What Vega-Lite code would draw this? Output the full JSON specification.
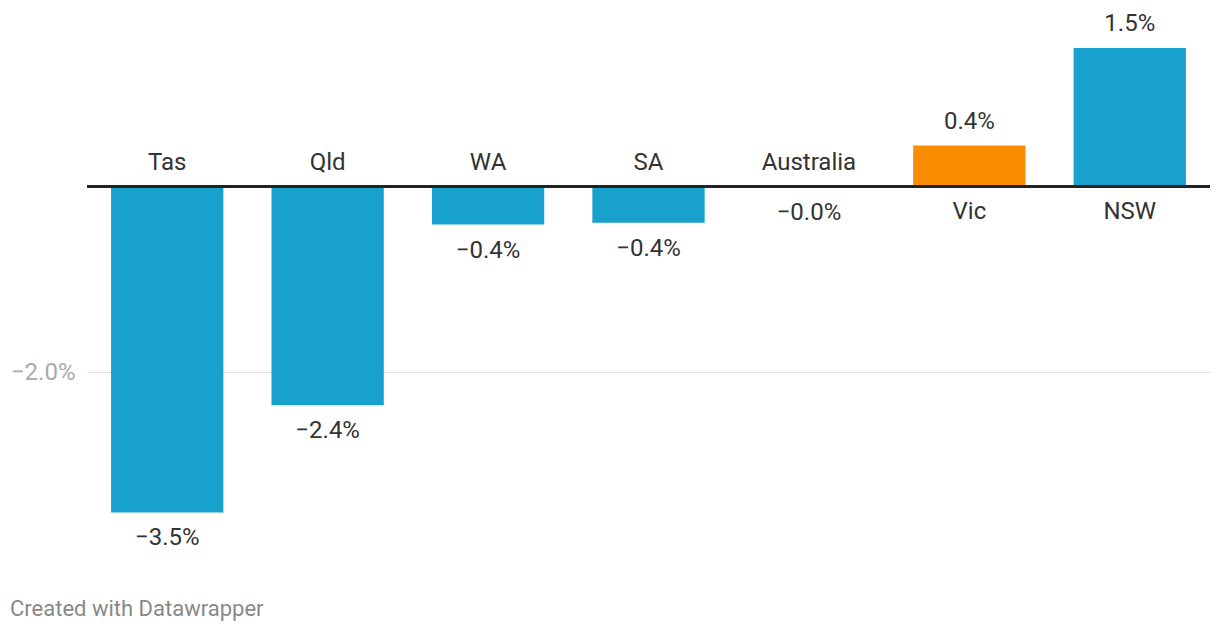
{
  "$schema": "https://vega.github.io/schema/vega-lite/v6.json",
  "autosize": "none",
  "width": 1123,
  "height": 548,
  "padding": {"left": 87, "top": 10, "right": 10, "bottom": 74},
  "background": "#ffffff",
  "config": {
    "view": {"stroke": null},
    "font": "Roboto",
    "text": {"font": "Roboto"}
  },
  "title": {
    "text": "Created with Datawrapper",
    "orient": "bottom",
    "anchor": "start",
    "frame": "group",
    "dx": -77,
    "offset": 41,
    "font": "Roboto",
    "fontSize": 22,
    "fontWeight": "normal",
    "color": "#888888"
  },
  "data": {
    "values": [
      {"region": "Tas", "value": -3.51},
      {"region": "Qld", "value": -2.355},
      {"region": "WA", "value": -0.41},
      {"region": "SA", "value": -0.39},
      {"region": "Australia", "value": -0.004},
      {"region": "Vic", "value": 0.44},
      {"region": "NSW", "value": 1.49}
    ]
  },
  "transform": [
    {"calculate": "(datum.value < 0 ? '\u2212' : '') + format(abs(datum.value), '.1f') + '%'", "as": "label"}
  ],
  "encoding": {
    "x": {
      "field": "region",
      "type": "nominal",
      "sort": null,
      "axis": null,
      "scale": {"paddingInner": 0.3, "paddingOuter": 0.15}
    }
  },
  "layer": [
    {
      "mark": {"type": "bar"},
      "encoding": {
        "y": {
          "field": "value",
          "type": "quantitative",
          "scale": {"domain": [-4, 1.9], "nice": false},
          "axis": {
            "values": [-2],
            "grid": true,
            "gridColor": "#e0e0e0",
            "gridWidth": 1,
            "domain": false,
            "ticks": false,
            "title": null,
            "labelExpr": "'\u22122.0%'",
            "labelFont": "Roboto",
            "labelFontSize": 24,
            "labelColor": "#aaaaaa",
            "labelPadding": 12
          }
        },
        "color": {
          "condition": {"test": "datum.region === 'Vic'", "value": "#fa8c00"},
          "value": "#18a1cd"
        }
      }
    },
    {
      "mark": {"type": "rule", "color": "#222222", "strokeWidth": 2},
      "encoding": {"y": {"datum": 0}, "x": {"value": 0}, "x2": {"value": 1123}}
    },
    {
      "transform": [{"filter": "datum.value <= 0"}],
      "mark": {"type": "text", "fontSize": 24, "color": "#333333", "baseline": "middle", "dy": -23},
      "encoding": {"y": {"datum": 0}, "text": {"field": "region"}}
    },
    {
      "transform": [{"filter": "datum.value > 0"}],
      "mark": {"type": "text", "fontSize": 24, "color": "#333333", "baseline": "middle", "dy": 26},
      "encoding": {"y": {"datum": 0}, "text": {"field": "region"}}
    },
    {
      "transform": [{"filter": "datum.value <= 0"}],
      "mark": {"type": "text", "fontSize": 24, "color": "#333333", "baseline": "middle", "dy": 26},
      "encoding": {"y": {"field": "value", "type": "quantitative"}, "text": {"field": "label"}}
    },
    {
      "transform": [{"filter": "datum.value > 0"}],
      "mark": {"type": "text", "fontSize": 24, "color": "#333333", "baseline": "middle", "dy": -24},
      "encoding": {"y": {"field": "value", "type": "quantitative"}, "text": {"field": "label"}}
    }
  ]
}
